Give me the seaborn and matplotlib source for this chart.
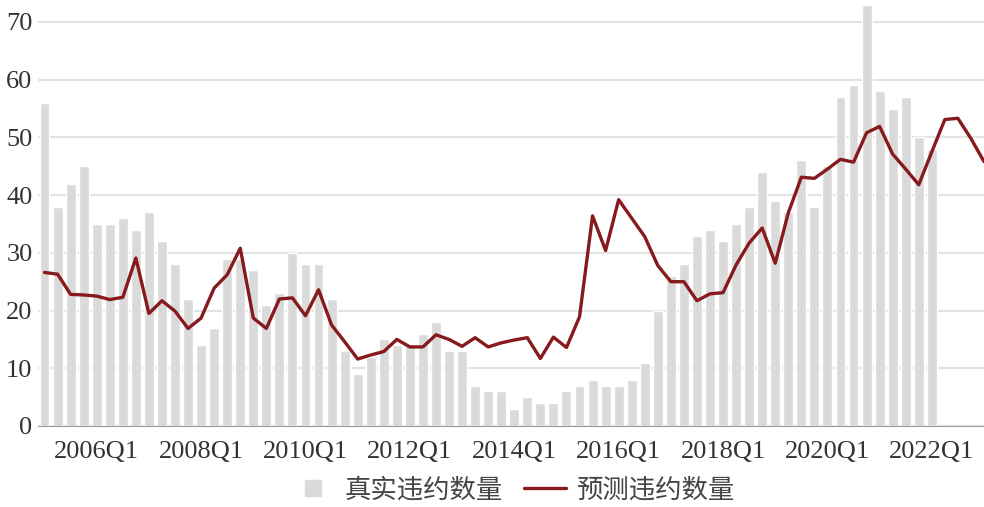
import pandas as pd
import seaborn as sns
import matplotlib.pyplot as plt
from matplotlib.lines import Line2D

# Quarter labels, 2005Q1 .. 2023Q1
quarters = [f"{y}Q{q}" for y in range(2005, 2024) for q in range(1, 5)][:73]

# Actual defaults per quarter (2005Q1 .. 2022Q1)
actual = [56, 38, 42, 45, 35, 35, 36, 34, 37, 32, 28, 22, 14, 17, 29, 29,
          27, 21, 23, 30, 28, 28, 22, 13, 9, 12, 15, 14, 14, 16, 18, 13,
          13, 7, 6, 6, 3, 5, 4, 4, 6, 7, 8, 7, 7, 8, 11, 20,
          26, 28, 33, 34, 32, 35, 38, 44, 39, 37, 46, 38, 45, 57, 59, 73,
          58, 55, 57, 50, 48]

# Predicted defaults per quarter (2005Q1 .. 2023Q1)
predicted = [26.6, 26.3, 22.8, 22.7, 22.5, 21.9, 22.3, 29.1, 19.5, 21.7, 19.9, 16.9,
             18.7, 23.9, 26.2, 30.8, 18.7, 16.9, 22.0, 22.2, 19.1, 23.6, 17.5, 14.6,
             11.6, 12.3, 12.9, 15.0, 13.7, 13.7, 15.8, 15.0, 13.8, 15.3, 13.7, 14.4,
             14.9, 15.3, 11.7, 15.4, 13.6, 18.9, 36.4, 30.4, 39.2, 36.0, 32.8, 27.8,
             25.0, 25.0, 21.7, 22.9, 23.1, 27.9, 31.7, 34.3, 28.2, 36.9, 43.1, 42.9,
             44.5, 46.2, 45.7, 50.8, 51.9, 47.1, 44.5, 41.8, 47.5, 53.1, 53.3, 49.8,
             45.8]

bar_df = pd.DataFrame({"pos": range(len(actual)), "count": actual})
line_df = pd.DataFrame({"pos": range(len(predicted)), "count": predicted})

sns.set_style("white")
plt.rcParams["font.family"] = ["Liberation Serif", "Noto Sans CJK SC"]

bar_color = "#dadada"
line_color = "#861a1c"

fig = plt.figure(figsize=(9.84, 5.07), dpi=100)
ax = fig.add_axes([38 / 984, 81 / 507, 946 / 984, 426 / 507])

sns.barplot(data=bar_df, x="pos", y="count", native_scale=True, color=bar_color,
            saturation=1, width=0.76, ax=ax, zorder=2)
sns.lineplot(data=line_df, x="pos", y="count", color=line_color, lw=2.4, ax=ax, zorder=3)

ax.set_xlim(-0.5, 72)
ax.set_ylim(0, 73.8)
ax.set_yticks(range(0, 71, 10))
tick_pos = list(range(4, 73, 8))
ax.set_xticks(tick_pos, [quarters[i] for i in tick_pos])
ax.set_xlabel("")
ax.set_ylabel("")

ax.grid(axis="y", color="#e3e3e3", lw=1.5)
ax.set_axisbelow(True)
for s in ["top", "right", "left"]:
    ax.spines[s].set_visible(False)
ax.spines["bottom"].set_color("#9a9a9a")
ax.tick_params(axis="x", direction="in", length=6, color="#888888", labelsize=19,
               pad=11, labelcolor="#333333")
ax.tick_params(axis="y", length=0, labelsize=19, pad=4, labelcolor="#333333")

handles = [Line2D([], [], marker="s", ls="none", color=bar_color, markersize=11),
           Line2D([], [], color=line_color, lw=2.4)]
leg = fig.legend(handles, ["真实违约数量", "预测违约数量"], loc="center",
                 bbox_to_anchor=(0.522, 0.034), ncol=2, frameon=False,
                 prop={"family": ["Noto Sans CJK SC"], "size": 19},
                 handlelength=1.6, columnspacing=0.8, handletextpad=0.4)
for t in leg.get_texts():
    t.set_color("#444444")

fig.savefig("out.png", dpi=100)
